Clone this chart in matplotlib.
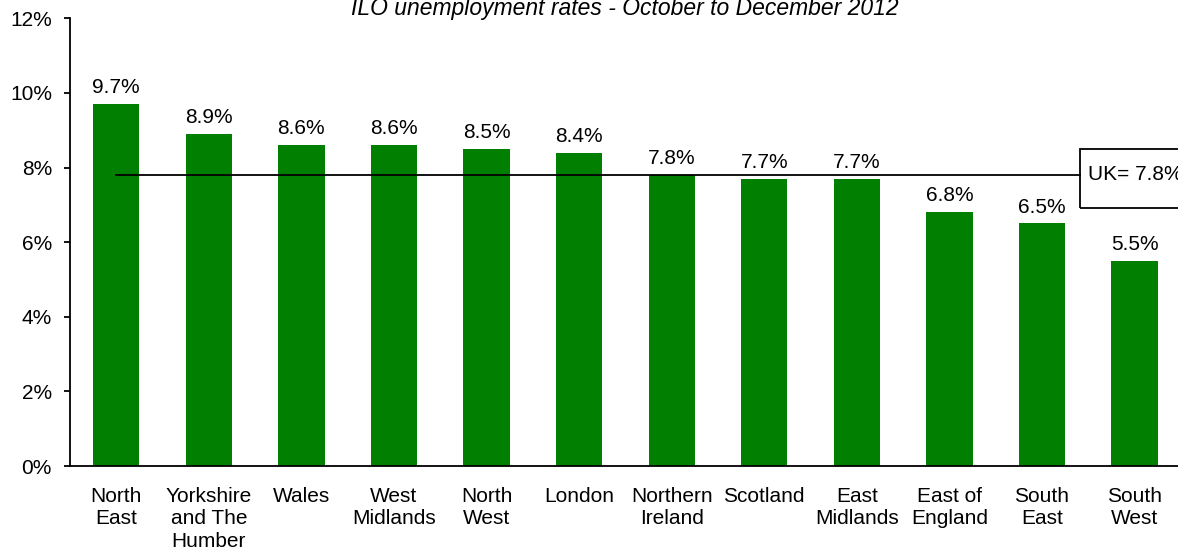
import matplotlib.pyplot as plt
from matplotlib.patches import Rectangle
from matplotlib.ticker import FuncFormatter

plt.rcParams['font.family'] = ['Liberation Sans', 'DejaVu Sans']

regions = ["North\nEast", "Yorkshire\nand The\nHumber", "Wales", "West\nMidlands",
           "North\nWest", "London", "Northern\nIreland", "Scotland", "East\nMidlands",
           "East of\nEngland", "South\nEast", "South\nWest"]
rates = [9.7, 8.9, 8.6, 8.6, 8.5, 8.4, 7.8, 7.7, 7.7, 6.8, 6.5, 5.5]
uk_rate = 7.8
title = "ILO unemployment rates - October to December 2012"

fig = plt.figure(figsize=(11.78, 5.51), dpi=100)
ax = fig.add_axes([0.0594, 0.154, 0.943, 0.813])

x = list(range(len(rates)))
ax.bar(x, rates, width=0.5, color='#007f00')

for xi, r in zip(x, rates):
    ax.annotate(f"{r:.1f}%", (xi, r), xytext=(0, 5), textcoords='offset points',
                ha='center', va='bottom', fontsize=15)

# UK average line running into the label box
box_left = 10.41
ax.plot([0, box_left], [uk_rate, uk_rate], color='black', lw=1.3, clip_on=False)
ax.add_patch(Rectangle((box_left, 6.92), 1.5, 1.58, fill=False, edgecolor='black',
                       lw=1.3, clip_on=False))
ax.text(box_left + 0.09, uk_rate, f"UK= {uk_rate}%", ha='left', va='center',
        fontsize=15, clip_on=False)

ax.set_xlim(-0.5, 11.5)
ax.set_ylim(0, 12)
ax.set_yticks(range(0, 13, 2))
ax.yaxis.set_major_formatter(FuncFormatter(lambda v, _: f"{v:.0f}%"))
ax.set_xticks(x)
ax.set_xticklabels(regions, fontsize=15, linespacing=1.23)
ax.tick_params(axis='x', length=0, pad=15)
ax.tick_params(axis='y', labelsize=15, length=4, width=1.3, pad=9)

ax.spines['top'].set_visible(False)
ax.spines['right'].set_visible(False)
ax.spines['left'].set_linewidth(1.3)
ax.spines['bottom'].set_linewidth(1.3)

fig.text(0.53, 0.973, title, ha='center', va='baseline', fontsize=16.5, style='italic')

fig.savefig("out.png", dpi=100)
